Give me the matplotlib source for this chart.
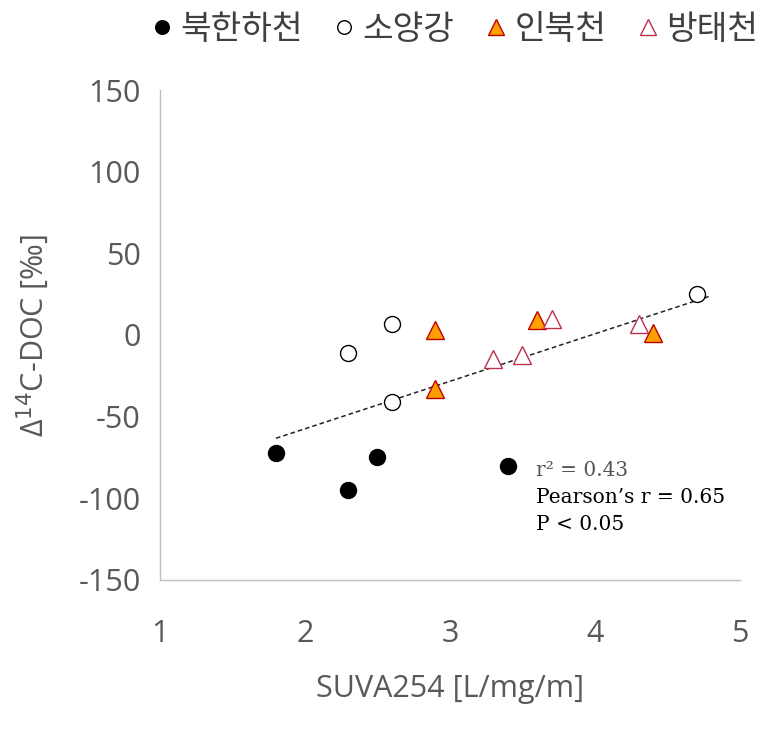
import numpy as np
import matplotlib.pyplot as plt

plt.rcParams['font.family'] = ['Open Sans', 'Noto Sans CJK KR', 'DejaVu Sans']
plt.rcParams['axes.unicode_minus'] = False

# data
bukhan_x = [1.8, 2.3, 2.5, 3.4]
bukhan_y = [-72, -95, -75, -80]
soyang_x = [2.3, 2.6, 2.6, 4.7]
soyang_y = [-11, 7, -41, 25]
inbuk_x = [2.9, 2.9, 3.6, 4.4]
inbuk_y = [3, -33, 9, 1]
bangtae_x = [3.7, 3.3, 3.5, 4.3]
bangtae_y = [10, -15, -12, 7]

labels = ["북한하천", "소양강", "인북천", "방태천"]
stats_text = ["r² = 0.43", "Pearson’s r = 0.65", "P < 0.05"]

fig = plt.figure(figsize=(7.64, 7.32), dpi=100)
ax = fig.add_axes([0.2094, 0.2077, 0.7592, 0.6693])

ms = 11.5
ax.plot(bukhan_x, bukhan_y, 'o', ms=ms, color='black', label=labels[0])
ax.plot(soyang_x, soyang_y, 'o', ms=ms, mfc='white', mec='black', mew=1.0, label=labels[1])
ax.plot(inbuk_x, inbuk_y, '^', ms=13, mfc='#FFA000', mec='#C00000', mew=1.0, label=labels[2])
ax.plot(bangtae_x, bangtae_y, '^', ms=13, mfc='white', mec='#C0304D', mew=1.0, label=labels[3])

# linear trend over all points
all_x = np.array(bukhan_x + soyang_x + inbuk_x + bangtae_x)
all_y = np.array(bukhan_y + soyang_y + inbuk_y + bangtae_y)
slope, icpt = np.polyfit(all_x, all_y, 1)
tx = np.array([1.8, 4.8])
ax.plot(tx, slope * tx + icpt, '--', color='#222222', lw=1.1, dashes=(3, 2), zorder=1)

ax.set_xlim(1, 5)
ax.set_ylim(-150, 150)
ax.set_xticks([1, 2, 3, 4, 5])
ax.set_yticks(range(-150, 151, 50))
for s in ['top', 'right']:
    ax.spines[s].set_visible(False)
for s in ['left', 'bottom']:
    ax.spines[s].set_color('#BFBFBF')
    ax.spines[s].set_linewidth(1.0)
ax.tick_params(length=0, labelsize=22, colors='#595959', pad=14)
ax.tick_params(axis='x', pad=28)

ax.set_xlabel("SUVA254 [L/mg/m]", fontsize=22, color='#595959', labelpad=18)
ax.set_ylabel("Δ$^{14}$C-DOC [‰]", fontsize=22, color='#595959', labelpad=20)

for i, t in enumerate(stats_text):
    ax.text(3.59, -83 - i * 16.5, t, fontsize=14.5, family=['DejaVu Serif'],
            color='#555555' if i == 0 else 'black', va='center')

fig.legend(loc='upper center', bbox_to_anchor=(0.59, 1.025), ncol=4, frameon=False,
           prop={'family': ['Noto Sans CJK KR'], 'size': 24}, labelcolor='#404040',
           handletextpad=0.0, columnspacing=0.7, handlelength=1.1, markerscale=0.85)

fig.savefig("out.png", dpi=100)
